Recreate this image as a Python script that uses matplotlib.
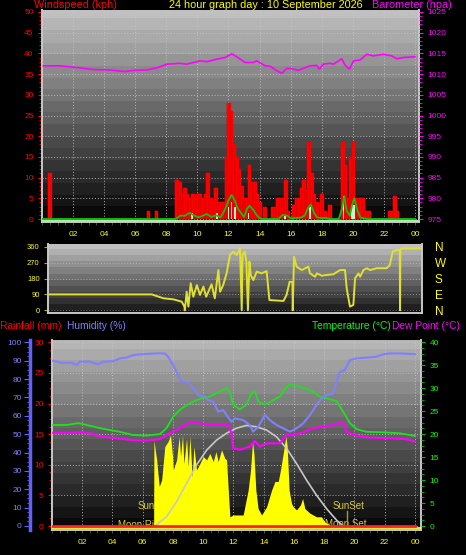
import numpy as np
import matplotlib
matplotlib.use('Agg')
import matplotlib.pyplot as plt
from matplotlib.ticker import MultipleLocator

plt.rcParams['font.family'] = ['Liberation Sans', 'DejaVu Sans']

# ---------------- data ----------------
hour_ticks = [2, 4, 6, 8, 10, 12, 14, 16, 18, 20, 22, 24]
hour_labels = ['02', '04', '06', '08', '10', '12', '14', '16', '18', '20', '22', '00']

# windspeed (kph), 10 minute bins
wind_speed = ([0] * 3 + [11] + [0] * 37 + [2, 0, 0, 2] + [0] * 7 +
              [9.5, 9, 6, 7.5, 6, 5, 6, 5, 6, 6, 5, 6, 11, 5, 4, 7.5, 4, 4, 4, 15,
               28, 26, 18, 15, 12, 8, 5, 5, 13, 9, 9, 6, 4, 0, 3, 0, 0, 3, 3, 5,
               5, 5, 9.5, 2, 0, 3.5, 5, 5, 7.5, 9.5, 7, 18.5, 11, 6, 4, 0, 6, 2, 0, 3.5,
               0, 0, 0, 0, 18.5, 13, 5, 15, 18.5, 5, 5, 5, 5, 2, 2] +
              [0] * 7 + [2, 2, 5.5, 2] + [0] * 6)
wind_time = np.arange(len(wind_speed)) / 6.0

# average wind (green line)
avg_time = [0, 8.6, 8.9, 9.2, 9.5, 9.8, 10.1, 10.6, 10.9, 11.2, 11.5, 11.8, 12.0, 12.2,
            12.4, 12.6, 12.8, 13.0, 13.2, 13.35, 13.6, 13.8, 14.0, 14.2, 15.2, 15.5,
            15.8, 16.0, 16.6, 16.9, 17.1, 17.3, 17.5, 17.7, 18.0, 18.3, 18.5, 19.1,
            19.3, 19.45, 19.6, 19.8, 20.0, 20.1, 20.3, 20.5, 21, 24]
avg_speed = [0, 0, 0.8, 0.8, 1.5, 0.8, 0.4, 1.2, 0.5, 0.9, 0.4, 2.5, 4.5, 5.8,
             4.5, 2.5, 1.5, 0.5, 2.5, 3.2, 2.2, 1.0, 0.2, 0, 0, 1.0,
             0.8, 0.2, 0.3, 0.8, 2.5, 3.5, 1.5, 0.4, 0.2, 0.3, 0, 0,
             2.5, 5.5, 2.0, 0.8, 4.0, 5.0, 2.0, 0.3, 0, 0]

# pale bars
pale_time = [9.64, 11.24, 12.0, 12.2, 12.42, 13.28, 15.64, 17.25, 19.4, 19.94, 20.09]
pale_val = [1.5, 1.5, 3, 4, 3, 1.5, 1, 3, 5.5, 3.5, 3.5]

# barometer (hPa)
baro_time = [0.09, 1.16, 2.23, 3.30, 4.38, 5.34, 5.88, 6.74, 7.38, 8.03, 8.88, 9.31,
             10.17, 10.60, 11.24, 11.78, 12.21, 12.53, 13.07, 13.61, 13.82, 14.36,
             14.68, 15.11, 15.43, 15.75, 16.07, 16.50, 16.82, 17.25, 17.68, 17.85,
             18.11, 18.54, 18.76, 19.29, 19.51, 19.79, 20.04, 20.47, 20.90, 21.33,
             21.97, 22.51, 22.83, 23.26, 24.0]
baro = [1012.0, 1012.0, 1011.6, 1011.1, 1011.0, 1010.6, 1010.9, 1011.0, 1011.5, 1012.4,
        1012.6, 1012.4, 1013.2, 1013.0, 1013.6, 1014.0, 1014.9, 1014.2, 1012.8, 1012.8,
        1013.2, 1012.0, 1011.9, 1010.8, 1010.2, 1011.4, 1011.3, 1010.9, 1011.4, 1012.0,
        1012.1, 1011.2, 1012.4, 1012.6, 1012.4, 1013.7, 1012.1, 1011.2, 1013.2, 1013.4,
        1014.8, 1014.4, 1014.8, 1014.4, 1013.7, 1014.0, 1014.2]

# wind direction (degrees)
dir_time = [0, 6.58, 7.33, 7.98, 8.52, 8.69, 8.72, 8.84, 8.95, 9.1, 9.27, 9.5, 9.7, 9.92,
            10.1, 10.45, 10.66, 10.89, 11.0, 11.2, 11.42, 11.64, 11.86, 12.07, 12.29,
            12.4, 12.45, 12.6, 12.7, 12.8, 12.9, 12.98, 13.15, 13.37, 13.69, 14.01,
            14.19, 15.1, 15.3, 15.5, 15.68, 15.7, 15.78, 15.95, 16.28, 16.71, 16.82,
            17.15, 17.26, 17.58, 17.9, 18.33, 18.76, 19.08, 19.19, 19.4, 19.62, 19.73,
            19.95, 20.06, 20.27, 20.49, 20.7, 21.13, 21.77, 21.98, 22.16, 22.42, 22.62,
            22.64, 22.66, 22.75, 24.0]
dir_deg = [90, 90, 68, 62, 49, 21, 0, 105, 21, 153, 77, 143, 87, 134,
           77, 147, 68, 228, 105, 143, 209, 313, 332, 313, 350,
           0, 313, 332, 275, 0, 275, 200, 171, 219, 209, 222,
           58, 53, 87, 162, 160, 0, 303, 247, 228, 247, 209,
           190, 209, 196, 200, 204, 228, 228, 124, 21, 30, 181,
           209, 190, 228, 238, 228, 238, 238, 256, 332, 341, 341,
           0, 341, 350, 350]

# humidity (%)
hum_time = [0.08, 0.63, 1.29, 1.63, 1.84, 2.5, 3.05, 3.39, 4.05, 4.49, 4.93, 5.37, 6.03,
            6.91, 7.46, 7.68, 8.01, 8.56, 9.12, 9.67, 10.11, 10.33, 10.66, 10.99, 11.32,
            11.54, 11.87, 12.09, 12.64, 13.08, 13.3, 13.64, 14.08, 14.41, 14.85, 15.29,
            15.73, 16.17, 16.61, 17.05, 17.49, 17.82, 18.15, 18.59, 19.03, 19.36, 19.7,
            20.14, 20.8, 21.46, 21.9, 22.34, 23.0, 24.0]
humidity = [90.0, 88.9, 88.9, 87.7, 89.5, 89.5, 88.0, 89.5, 89.8, 91.3, 91.7, 93.1, 93.6,
            94.0, 94.0, 92.2, 87.7, 78.6, 77.7, 71.3, 70.4, 68.6, 67.7, 62.3, 63.2,
            60.4, 56.8, 58.6, 57.7, 55.0, 51.4, 54.1, 60.4, 57.7, 55.0, 53.2,
            51.4, 53.2, 55.9, 60.4, 65.9, 69.5, 71.3, 72.2, 84.0, 84.9, 90.4,
            91.3, 91.7, 92.2, 93.5, 94.0, 94.0, 93.6]

# temperature (C)
temp_time = [0.08, 0.96, 1.74, 2.29, 3.17, 3.83, 4.49, 5.37, 6.25, 7.13, 7.57, 8.01, 8.56,
             9.12, 9.56, 10.0, 10.44, 10.88, 11.32, 11.54, 11.76, 11.98, 12.42, 12.86,
             13.19, 13.41, 13.64, 14.08, 14.52, 15.07, 15.4, 15.73, 16.39, 17.05, 17.71,
             18.15, 18.81, 19.25, 19.7, 20.14, 20.8, 21.9, 23.0, 24.0]
temperature = [22.0, 22.0, 22.4, 22.0, 21.3, 20.9, 20.5, 19.8, 19.7, 20.0, 21.3, 23.8, 25.6,
               26.7, 27.4, 27.9, 28.2, 28.9, 29.6, 30.1, 29.1, 26.4, 25.4, 26.4,
               28.9, 29.3, 27.1, 26.4, 27.2, 28.2, 29.8, 30.9, 30.3, 29.6, 28.2,
               27.8, 27.2, 24.9, 22.4, 21.1, 20.5, 20.4, 20.2, 19.6]

# dew point (C)
dew_time = [0.08, 0.96, 1.6, 2.5, 3.17, 4.27, 5.37, 6.25, 7.13, 7.57, 8.23, 9.12, 9.78,
            10.44, 11.1, 11.65, 11.87, 11.98, 12.42, 13.08, 13.41, 13.75, 14.19, 15.07,
            15.51, 15.95, 16.61, 17.27, 17.93, 18.59, 19.25, 19.47, 19.7, 20.36, 21.24,
            22.34, 23.44, 24.0]
dew_point = [20.3, 20.2, 20.4, 20.2, 19.5, 19.1, 18.7, 18.6, 18.9, 19.8, 20.9, 22.6, 22.4,
             22.0, 22.0, 22.1, 20.2, 16.9, 16.6, 17.3, 18.5, 17.3, 18.0, 18.0,
             19.8, 19.8, 20.4, 21.3, 21.6, 22.0, 22.7, 20.5, 20.2, 19.5, 19.2,
             19.1, 18.9, 18.4]

# solar (drawn on temperature scale)
solar_time = [6.72, 6.74, 6.92, 7.09, 7.25, 7.46, 7.68, 7.84, 7.97, 8.02, 8.24, 8.41, 8.50,
              8.63, 8.72, 8.90, 9.01, 9.12, 9.27, 9.38, 9.56, 9.78, 10.0, 10.22, 10.44,
              10.66, 10.84, 10.99, 11.21, 11.43, 11.54, 11.76, 11.98, 12.64, 12.75, 12.97,
              13.13, 13.26, 13.35, 13.48, 13.63, 13.86, 14.19, 14.52, 14.74, 14.96, 15.11,
              15.29, 15.46, 15.55, 15.68, 15.84, 15.95, 16.17, 16.43, 16.57, 16.72, 17.05,
              17.49, 17.82, 18.04, 18.37, 18.59, 18.92]
solar = [0, 18.7, 14.4, 8.6, 10.0, 17.3, 18.4, 19.8, 15.1, 12.2, 14.4, 19.5, 15.1,
         19.8, 13.6, 19.1, 12.9, 19.5, 10.7, 17.3, 12.2, 13.6, 15.1, 14.4, 15.8,
         14.0, 16.2, 14.0, 16.6, 14.7, 14.4, 2.0, 2.4, 2.4, 4.2, 7.8,
         12.2, 18.4, 15.8, 7.8, 3.8, 2.4, 4.2, 7.8, 9.7, 9.7, 12.2,
         15.8, 19.5, 17.3, 7.8, 4.9, 4.2, 3.5, 4.6, 6.0, 3.8, 2.8,
         2.0, 2.0, 0.9, 0.2, 0.1, 0]

# sun elevation curve (temperature scale)
sun_time = [6.8, 7.57, 8.24, 8.90, 9.56, 10.22, 10.88, 11.54, 12.2, 12.86, 13.52, 14.19,
            14.85, 15.51, 16.17, 16.83, 17.49, 18.15, 18.81, 19.25]
sun_elev = [0, 2.0, 5.3, 9.3, 13.3, 16.5, 18.7, 20.2, 21.3, 21.9, 21.6, 20.9,
            19.4, 16.9, 13.6, 10.0, 6.7, 3.8, 1.3, 0]
sunrise, sunset = 6.75, 19.5

rain_time = [0, 24]
rainfall = [0, 0]

# ---------------- figure ----------------
W, H = 466, 555
fig = plt.figure(figsize=(W / 100, H / 100), dpi=100, facecolor='black')


def px_axes(l, t, r, b):
    return fig.add_axes([l / W, 1 - b / H, (r - l) / W, (b - t) / H])


def sky(ax, top, bottom, bands=24):
    g = np.linspace(top, bottom, 300)
    g = np.floor(g * bands) / bands
    ax.imshow(g[:, None], cmap='gray', vmin=0, vmax=1, aspect='auto',
              extent=[0, 1, 0, 1], transform=ax.transAxes, zorder=0,
              interpolation='nearest')


def frame(ax):
    ax.set_facecolor('black')
    ax.spines['top'].set_visible(False)
    for s in ['left', 'bottom', 'right']:
        ax.spines[s].set_color('#c8c8c8')
        ax.spines[s].set_linewidth(1.4)
    ax.grid(True, which='major', color='#c8c8c8', ls=(0, (1, 2)), lw=0.7, alpha=0.85)


# ===== panel 1: wind & barometer =====
ax1 = px_axes(42, 10, 419, 222)
sky(ax1, 0.78, 0.03)
frame(ax1)
ax1.bar(wind_time, wind_speed, width=1 / 6, color='#ff0000', edgecolor='#c00000',
        linewidth=0.3, zorder=2)
ax1.step(wind_time, wind_speed, where='mid', color='#ff0000', lw=1.0, zorder=2)
ax1.bar(pale_time, pale_val, width=0.11, color='#d0f0d0', zorder=3)
ax1.plot(avg_time, avg_speed, color='#10c010', lw=1.3, zorder=4)
ax1.axhline(-0.55, color='#a0f0a0', lw=1.5, zorder=4)
ax1.set_xlim(0, 24.26)
ax1.set_ylim(-0.72, 50.48)
ax1.set_xticks(hour_ticks)
ax1.set_xticklabels(hour_labels)
ax1.xaxis.set_minor_locator(MultipleLocator(0.5))
ax1.set_yticks(range(0, 51, 5))
ax1.yaxis.set_minor_locator(MultipleLocator(1))
ax1.tick_params(axis='x', which='both', colors='#505050', labelcolor='#ffff00',
                labelsize=6, length=2.5, pad=4)
ax1.tick_params(axis='y', which='major', colors='#ff0000', labelsize=6, length=3, pad=3)
ax1.tick_params(axis='y', which='minor', colors='#ff0000', length=2)

ax1b = ax1.twinx()
ax1b.plot(baro_time, baro, color='#ff00ff', lw=1.2, zorder=5)
ax1b.set_ylim(975 - 0.72, 1025.48)
ax1b.set_yticks(range(975, 1026, 5))
ax1b.yaxis.set_minor_locator(MultipleLocator(1))
ax1b.tick_params(axis='y', which='major', colors='#ff00ff', labelsize=6, length=3, pad=3)
ax1b.tick_params(axis='y', which='minor', colors='#ff00ff', length=2)
for s in ax1b.spines.values():
    s.set_visible(False)

fig.text(34 / W, 1 - 5 / H, 'Windspeed (kph)', color='#ff0000', fontsize=7.8, va='center')
fig.text(266 / W, 1 - 5 / H, '24 hour graph day : 10 September 2026', color='#ffff00',
         fontsize=7.8, va='center', ha='center')
fig.text(372 / W, 1 - 5 / H, 'Barometer (hpa)', color='#ff00ff', fontsize=7.8, va='center')

# ===== panel 2: wind direction =====
ax2 = px_axes(48, 244, 422, 313)
sky(ax2, 0.80, 0.10, bands=16)
frame(ax2)
ax2.grid(False)
ax2.grid(True, axis='y', color='#c8c8c8', ls=(0, (1, 2)), lw=0.7, alpha=0.6)
ax2.plot(dir_time, dir_deg, color='#e0e030', lw=1.4, zorder=3)
ax2.set_xlim(-0.13, 24.06)
ax2.set_ylim(-15.3, 375.3)
ax2.set_yticks([0, 90, 180, 270, 360])
ax2.set_xticks(hour_ticks)
ax2.tick_params(axis='x', length=0, labelbottom=False)
ax2.tick_params(axis='y', colors='#b0b000', labelcolor='#ffff00', labelsize=5.5,
                length=3, pad=3)

ax2n = ax2.twinx()
ax2n.set_ylim(-15.3, 375.3)
ax2n.set_yticks([0, 90, 180, 270, 360])
ax2n.set_yticklabels(['N', 'E', 'S', 'W', 'N'])
ax2n.tick_params(axis='y', length=0, labelcolor='#ffff00', labelsize=8.5, pad=9)
for s in ax2n.spines.values():
    s.set_visible(False)

fig.text(0 / W, 1 - 326 / H, 'Rainfall (mm)', color='#ff0000', fontsize=7.4, va='center')
fig.text(67 / W, 1 - 326 / H, 'Humidity (%)', color='#8080ff', fontsize=7.4, va='center')
fig.text(312 / W, 1 - 326 / H, 'Temperature (°C)', color='#00ff00', fontsize=7.4, va='center')
fig.text(392 / W, 1 - 326 / H, 'Dew Point (°C)', color='#ff00ff', fontsize=7.4, va='center')

# ===== panel 3: rain, humidity, temperature =====
ax3 = px_axes(52, 340, 421, 530)
sky(ax3, 0.74, 0.04)
frame(ax3)
ax3.set_xlim(0, 24.4)
ax3.set_ylim(-0.65, 30.38)
ax3.set_xticks(hour_ticks)
ax3.set_xticklabels(hour_labels)
ax3.xaxis.set_minor_locator(MultipleLocator(0.5))
ax3.set_yticks(range(0, 31, 5))
ax3.yaxis.set_minor_locator(MultipleLocator(1.25))
ax3.tick_params(axis='x', which='both', colors='#505050', labelcolor='#ffff00',
                labelsize=6, length=2.5, pad=4)
ax3.tick_params(axis='y', which='major', colors='#ff0000', labelsize=6, length=3, pad=3)
ax3.tick_params(axis='y', which='minor', colors='#ff0000', length=2)
txt = dict(color='#d8c840', fontsize=7, va='center', zorder=2)
ax3.text(sunrise - 1.07, 3.3, 'SunRise', **txt)
ax3.text(sunrise - 2.4, 0.2, 'Moon Rise', **txt)
ax3.text(sunset - 0.93, 3.3, 'SunSet', **txt)
ax3.text(sunset - 1.45, 0.25, 'Moon Set', **txt)
ax3.plot([sunset, sunset], [0, 2.5], color='#a0a020', lw=1, zorder=2)

ax3t = ax3.twinx()
ax3t.fill_between(solar_time, 0, solar, color='#ffff00', lw=0, zorder=2)
ax3t.plot(sun_time, sun_elev, color='#c8c8c8', lw=1.2, zorder=3)
ax3t.plot(temp_time, temperature, color='#20e020', lw=1.3, zorder=4)
ax3t.plot(dew_time, dew_point, color='#ff00ff', lw=1.5, zorder=4)
ax3t.set_ylim(-0.87, 40.5)
ax3t.set_yticks(range(0, 41, 5))
ax3t.yaxis.set_minor_locator(MultipleLocator(1.25))
ax3t.tick_params(axis='y', which='major', colors='#00c000', labelcolor='#00ff00',
                 labelsize=6, length=3, pad=3)
ax3t.tick_params(axis='y', which='minor', colors='#00c000', length=2)
for s in ax3t.spines.values():
    s.set_visible(False)

ax3h = ax3.twinx()
ax3h.plot(hum_time, humidity, color='#8080ff', lw=1.5, zorder=5)
ax3h.set_ylim(-2.18, 101.3)
ax3h.yaxis.set_ticks_position('left')
ax3h.spines['left'].set_position(('outward', 15.8))
ax3h.spines['left'].set_color('#6060ff')
ax3h.spines['left'].set_linewidth(2.5)
for s in ['top', 'right', 'bottom']:
    ax3h.spines[s].set_visible(False)
ax3h.set_yticks(range(0, 101, 10))
ax3h.yaxis.set_minor_locator(MultipleLocator(2.5))
ax3h.tick_params(axis='y', which='major', colors='#6060ff', labelcolor='#8080ff',
                 labelsize=6, length=4, pad=2)
ax3h.tick_params(axis='y', which='minor', colors='#6060ff', length=2)

ax3r = fig.add_axes(ax3.get_position(), sharex=ax3, sharey=ax3)
ax3r.set_axis_off()
ax3r.plot(rain_time, rainfall, color='#ff2020', lw=2.0, zorder=6)
ax3r.axhline(-0.35, color='#ffff40', lw=1.3, zorder=5)

fig.savefig('out.png', dpi=100, facecolor='black')
